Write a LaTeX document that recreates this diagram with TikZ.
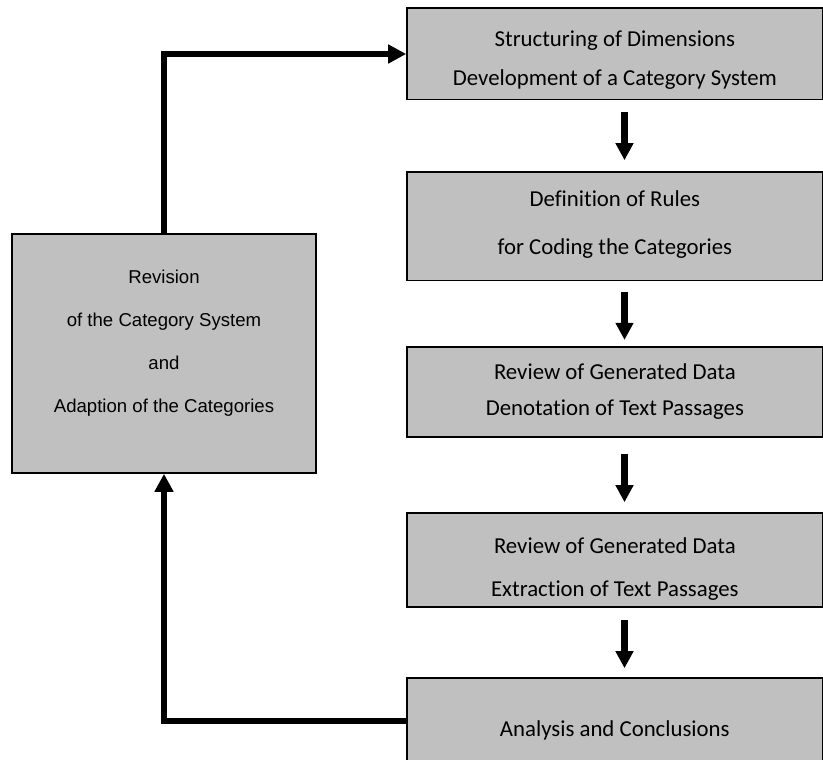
\documentclass[tikz,border=0pt]{standalone}
\usepackage{fontspec}
\setmainfont{Carlito}[Ligatures=NoCommon]
\newfontfamily\arialfont{Liberation Sans}
\usetikzlibrary{arrows.meta,calc}
\definecolor{boxgray}{RGB}{192,192,192}
\begin{document}
\begin{tikzpicture}[x=1pt,y=-1pt,
  stepbox/.style={draw=black,line width=1.6pt,fill=boxgray,minimum width=415.7pt,
    inner sep=0pt},
  steptext/.style={inner sep=0pt,align=center},
  revbox/.style={draw=black,line width=1.6pt,fill=boxgray,minimum width=304pt,
    minimum height=239pt,inner sep=0pt},
  flow/.style={line width=6.5pt,-{Triangle[length=17pt,width=17pt]}},
  loopline/.style={line width=5.5pt,-{Triangle[length=18pt,width=18pt]}}]
\useasboundingbox (0,0) rectangle (823,760);

% process steps on the right
\node[stepbox,minimum height=91.4pt]  (b1) at (614.85,54) {};
\node[stepbox,minimum height=108.6pt] (b2) at (614.85,226) {};
\node[stepbox,minimum height=90pt]    (b3) at (614.85,392) {};
\node[stepbox,minimum height=94pt]    (b4) at (614.85,560) {};
\node[stepbox,minimum height=86pt]    (b5) at (614.85,721) {};

\node[steptext,font=\fontsize{22.8}{39}\selectfont] (t1) at ($(b1)+(0,6)$)
  {Structuring of Dimensions\\Development of a Category System};
\node[steptext,font=\fontsize{22.8}{48}\selectfont] (t2) at ($(b2)+(0,-1)$)
  {Definition of Rules\\for Coding the Categories};
\node[steptext,font=\fontsize{22.8}{36}\selectfont] (t3) at (b3)
  {Review of Generated Data\\Denotation of Text Passages};
\node[steptext,font=\fontsize{22.8}{43}\selectfont] (t4) at ($(b4)+(0,9)$)
  {Review of Generated Data\\Extraction of Text Passages};
\node[steptext,font=\fontsize{22.8}{30}\selectfont] (t5) at ($(b5)+(0,9)$)
  {Analysis and Conclusions};

% revision step on the left
\node[revbox] (rev) at (164,353.5) {};
\node[steptext,font=\arialfont\fontsize{18.6}{43}\selectfont] (revtext) at ($(rev)+(0,-10)$)
  {Revision\\of the Category System\\and\\Adaption of the Categories};

% downward flow between the steps
\coordinate (ax) at (624.5,0);
\draw[flow,shorten <=11.3pt,shorten >=10.7pt] (b1.south -| ax) -- (b2.north -| ax);
\draw[flow,shorten <=10.4pt,shorten >=6.3pt] (b2.south -| ax) -- (b3.north -| ax);
\draw[flow,shorten <=15.7pt,shorten >=10pt] (b3.south -| ax) -- (b4.north -| ax);
\draw[flow,shorten <=12pt,shorten >=9pt] (b4.south -| ax) -- (b5.north -| ax);

% feedback loop through the revision step
\draw[loopline] (b5.west) -| (rev.south);
\draw[loopline] (rev.north) |- (b1.west);
\end{tikzpicture}
\end{document}
